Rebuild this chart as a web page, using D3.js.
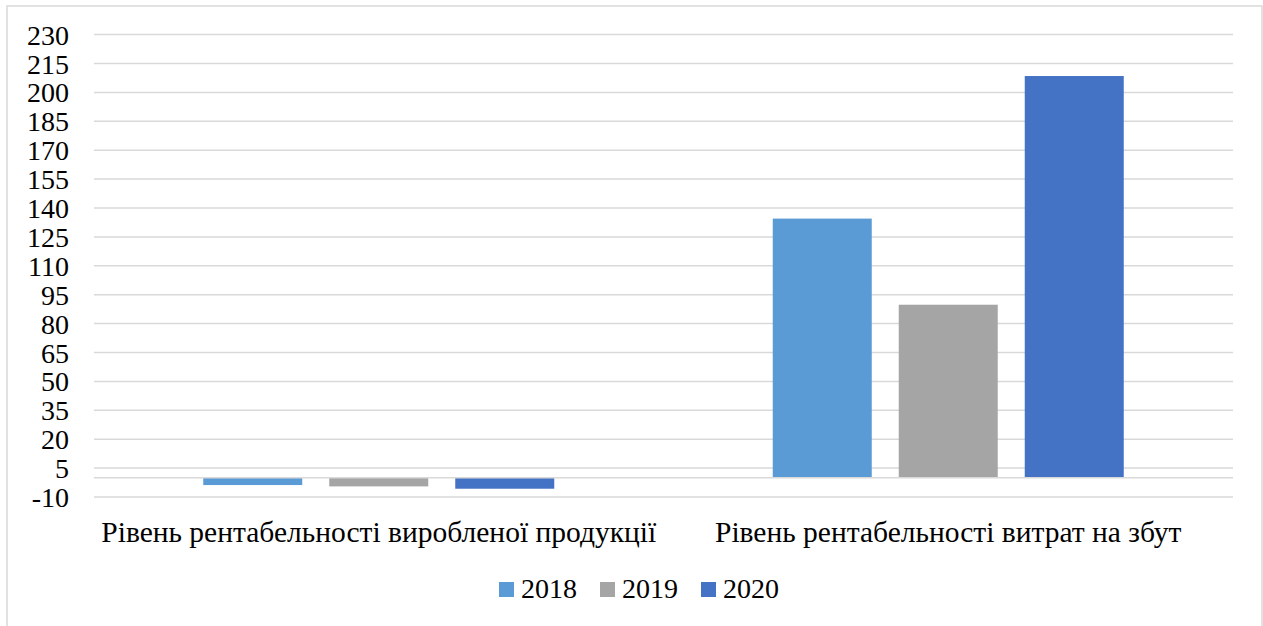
<!DOCTYPE html>
<html>
<head>
<meta charset="utf-8">
<script src="https://cdn.jsdelivr.net/npm/d3@7"></script>
<style>
  html, body { margin: 0; padding: 0; background: #fff; }
  svg { display: block; }
  svg text { font-family: 'Liberation Serif', 'Times New Roman', Tinos, serif !important; fill: #000; }
</style>
</head>
<body>
<svg id="chart" width="1263" height="626"></svg>
<script>
const categories = ["Рівень рентабельності виробленої продукції", "Рівень рентабельності витрат на збут"];
const seriesNames = ["2018", "2019", "2020"];
const values2018 = [-3.8, 134.5];
const values2019 = [-4.5, 89.8];
const values2020 = [-5.7, 208.5];
const tickValues = [-10, 5, 20, 35, 50, 65, 80, 95, 110, 125, 140, 155, 170, 185, 200, 215, 230];
const colors = ["#5B9BD5", "#A5A5A5", "#4472C4"];

const seriesValues = [values2018, values2019, values2020];
const FONT = "'Liberation Serif', 'Times New Roman', serif";

const svg = d3.select("#chart");
const plot = { left: 94, right: 1233, top: 34.6, bottom: 497 };

// chart border
svg.append("rect")
  .attr("x", 7).attr("y", 6)
  .attr("width", 1255).attr("height", 640)
  .attr("fill", "#fff")
  .attr("stroke", "#d9d9d9").attr("stroke-width", 1.5);

const y = d3.scaleLinear().domain([-10, 230]).range([plot.bottom, plot.top]);
const x0 = d3.scaleBand().domain(categories).range([plot.left, plot.right]);
const x1 = d3.scaleBand().domain(seriesNames).range([0, 351]).paddingInner(27 / 126).paddingOuter(0);

// gridlines
svg.append("g")
  .selectAll("line")
  .data(tickValues)
  .join("line")
  .attr("x1", plot.left).attr("x2", plot.right)
  .attr("y1", d => y(d)).attr("y2", d => y(d))
  .attr("stroke", "#d9d9d9").attr("stroke-width", 1.5);

// y axis labels
const yAxis = d3.axisLeft(y).tickValues(tickValues).tickSize(0).tickPadding(0).tickFormat(d => String(d));
const yg = svg.append("g").attr("transform", `translate(69,0)`).call(yAxis)
  .attr("font-family", FONT).attr("font-size", 28);
yg.select(".domain").remove();
yg.selectAll("text")
  .style("font-family", FONT)
  .style("font-size", "28px")
  .attr("fill", "#000")
  .attr("dy", "0.34em");

// bars
const groups = svg.append("g")
  .selectAll("g")
  .data(categories)
  .join("g")
  .attr("transform", (d) => `translate(${x0(d) + (x0.bandwidth() - 351) / 2},0)`);

groups.selectAll("rect")
  .data((c, ci) => seriesNames.map((s, si) => ({ s, v: seriesValues[si][ci], color: colors[si] })))
  .join("rect")
  .attr("x", d => x1(d.s))
  .attr("width", x1.bandwidth())
  .attr("y", d => y(Math.max(0, d.v)))
  .attr("height", d => Math.abs(y(d.v) - y(0)))
  .attr("fill", d => d.color);

// zero line
svg.append("line")
  .attr("x1", plot.left).attr("x2", plot.right)
  .attr("y1", y(0)).attr("y2", y(0))
  .attr("stroke", "#d9d9d9").attr("stroke-width", 1.5);

// category labels
svg.append("g")
  .selectAll("text")
  .data(categories)
  .join("text")
  .attr("x", d => x0(d) + x0.bandwidth() / 2)
  .attr("y", 542)
  .attr("text-anchor", "middle")
  .style("font-family", FONT)
  .style("font-size", "29.5px")
  .text(d => d);

// legend
const legend = svg.append("g");
const lx = [499, 600, 701];
seriesNames.forEach((s, i) => {
  legend.append("rect")
    .attr("x", lx[i]).attr("y", 582)
    .attr("width", 15).attr("height", 15)
    .attr("fill", colors[i]);
  legend.append("text")
    .attr("x", lx[i] + 22).attr("y", 598)
    .style("font-family", FONT)
    .style("font-size", "28px")
    .text(s);
});
</script>
</body>
</html>
